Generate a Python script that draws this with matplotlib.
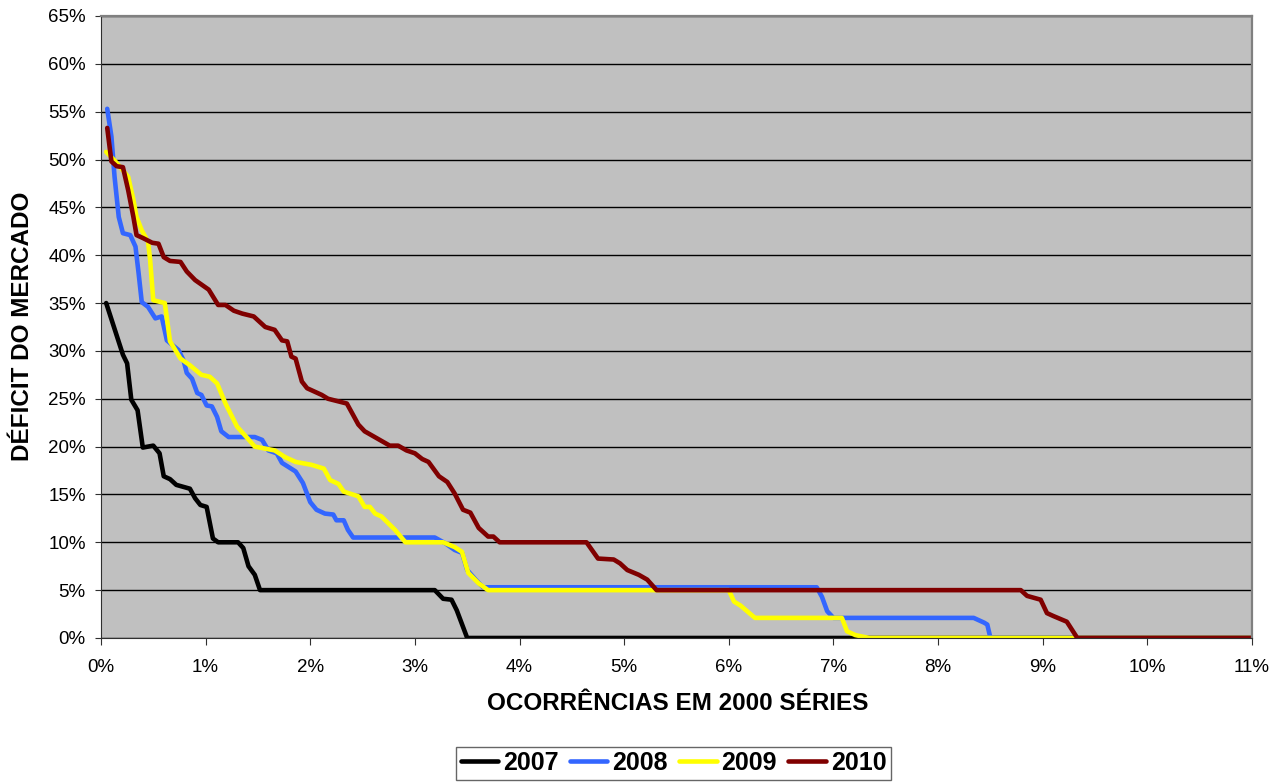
import matplotlib
matplotlib.use("Agg")
import matplotlib.pyplot as plt
from matplotlib.ticker import MultipleLocator, FuncFormatter

plt.rcParams['font.family'] = ['Liberation Sans', 'DejaVu Sans']

# data (x = occurrences in %, y = market deficit in %)
x_2007 = [0.05, 0.21, 0.25, 0.29, 0.35, 0.40, 0.50, 0.56, 0.60, 0.66, 0.72, 0.85, 0.90, 0.95,
          1.01, 1.07, 1.12, 1.31, 1.36, 1.41, 1.47, 1.52, 3.19, 3.27, 3.35, 3.40, 3.50, 11.0]
y_2007 = [35.0, 29.6, 28.7, 24.9, 23.8, 19.9, 20.1, 19.3, 16.9, 16.6, 16.0, 15.6, 14.6, 13.9,
          13.7, 10.4, 10.0, 10.0, 9.4, 7.5, 6.6, 5.0, 5.0, 4.1, 4.0, 2.9, 0.0, 0.0]

x_2008 = [0.06, 0.10, 0.13, 0.17, 0.21, 0.28, 0.33, 0.36, 0.39, 0.45, 0.52, 0.58, 0.63, 0.74,
          0.79, 0.82, 0.87, 0.92, 0.96, 1.01, 1.06, 1.11, 1.15, 1.22, 1.47, 1.54, 1.60, 1.68,
          1.73, 1.86, 1.93, 2.00, 2.06, 2.14, 2.22, 2.25, 2.32, 2.36, 2.41, 3.19, 3.29, 3.38,
          3.45, 3.50, 3.58, 3.65, 6.84, 6.89, 6.94, 7.00, 8.34, 8.44, 8.47, 8.50, 11.0]
y_2008 = [55.3, 52.4, 48.2, 44.0, 42.3, 42.1, 40.9, 38.1, 35.1, 34.6, 33.4, 33.6, 31.1, 30.1,
          29.0, 27.7, 27.1, 25.6, 25.4, 24.3, 24.2, 23.1, 21.6, 21.0, 21.0, 20.7, 19.6, 19.3,
          18.3, 17.4, 16.2, 14.2, 13.4, 13.0, 12.9, 12.3, 12.3, 11.3, 10.5, 10.5, 9.9, 9.2,
          8.9, 7.1, 6.1, 5.3, 5.3, 4.3, 2.8, 2.1, 2.1, 1.6, 1.4, 0.0, 0.0]

x_2009 = [0.05, 0.13, 0.26, 0.31, 0.34, 0.39, 0.45, 0.47, 0.50, 0.61, 0.66, 0.76, 0.85, 0.96,
          1.04, 1.11, 1.19, 1.30, 1.39, 1.47, 1.66, 1.76, 1.86, 2.01, 2.13, 2.19, 2.27, 2.32,
          2.46, 2.52, 2.57, 2.62, 2.68, 2.81, 2.91, 3.27, 3.38, 3.45, 3.51, 3.61, 3.70, 6.00,
          6.05, 6.11, 6.25, 7.08, 7.13, 7.21, 7.34, 11.0]
y_2009 = [50.8, 49.9, 48.2, 45.8, 44.0, 42.6, 41.4, 39.5, 35.3, 35.0, 31.0, 29.2, 28.5, 27.5,
          27.3, 26.6, 24.5, 22.1, 21.0, 20.0, 19.6, 18.9, 18.4, 18.1, 17.7, 16.5, 16.1, 15.3,
          14.8, 13.7, 13.7, 13.0, 12.7, 11.3, 10.0, 10.0, 9.5, 9.0, 6.8, 5.7, 5.0, 5.0,
          3.8, 3.4, 2.1, 2.1, 0.7, 0.3, 0.0, 0.0]

x_2010 = [0.06, 0.10, 0.15, 0.21, 0.26, 0.31, 0.34, 0.40, 0.49, 0.55, 0.60, 0.66, 0.76, 0.82,
          0.90, 1.03, 1.12, 1.19, 1.27, 1.35, 1.46, 1.57, 1.66, 1.73, 1.78, 1.82, 1.86, 1.92,
          1.97, 2.11, 2.17, 2.35, 2.46, 2.52, 2.68, 2.76, 2.84, 2.92, 3.00, 3.07, 3.13, 3.23,
          3.31, 3.38, 3.46, 3.53, 3.61, 3.70, 3.75, 3.81, 4.64, 4.75, 4.90, 4.96, 5.03, 5.14,
          5.22, 5.31, 8.79, 8.85, 8.98, 9.04, 9.10, 9.23, 9.33, 11.0]
y_2010 = [53.3, 49.8, 49.3, 49.2, 46.8, 44.0, 42.1, 41.8, 41.3, 41.2, 39.8, 39.4, 39.3, 38.3,
          37.4, 36.4, 34.8, 34.8, 34.2, 33.9, 33.6, 32.5, 32.2, 31.1, 31.0, 29.4, 29.2, 26.8,
          26.1, 25.4, 25.0, 24.5, 22.3, 21.6, 20.6, 20.1, 20.1, 19.6, 19.3, 18.7, 18.4, 16.9,
          16.3, 15.1, 13.4, 13.1, 11.5, 10.6, 10.6, 10.0, 10.0, 8.3, 8.2, 7.8, 7.1, 6.6,
          6.1, 5.0, 5.0, 4.4, 4.0, 2.6, 2.3, 1.7, 0.0, 0.0]

series = [("2007", x_2007, y_2007, "#000000"),
          ("2008", x_2008, y_2008, "#3366FF"),
          ("2009", x_2009, y_2009, "#FFFF00"),
          ("2010", x_2010, y_2010, "#800000")]

fig = plt.figure(figsize=(12.86, 7.83), dpi=100)
ax = fig.add_axes([0.0785, 0.1852, 0.8951, 0.7944])
ax.set_facecolor("#C0C0C0")

for label, xs, ys, color in series:
    ax.plot(xs, ys, color=color, lw=3.3, label=label, solid_capstyle='round', solid_joinstyle='round')

ax.set_xlim(0, 11)
ax.set_ylim(0, 65)
ax.xaxis.set_major_locator(MultipleLocator(1))
ax.yaxis.set_major_locator(MultipleLocator(5))
ax.xaxis.set_major_formatter(FuncFormatter(lambda v, p: "%d%%" % round(v)))
ax.yaxis.set_major_formatter(FuncFormatter(lambda v, p: "%d%%" % round(v)))
ax.yaxis.grid(True, color="black", lw=1)
ax.set_axisbelow(True)
ax.tick_params(axis='both', labelsize=13.5, color="#303030", direction='out')
ax.tick_params(axis='y', length=4, pad=7)
ax.tick_params(axis='x', length=5, pad=10)

for side in ['left', 'bottom']:
    ax.spines[side].set_color("#303030")
for side in ['right', 'top']:
    ax.spines[side].set_color("#808080")
    ax.spines[side].set_linewidth(1.6)

fig.text(677.5 / 1286, 1 - 704 / 783, "OCORRÊNCIAS EM 2000 SÉRIES", fontsize=17.5,
         fontweight='bold', ha='center', va='center')
fig.text(23 / 1286, 1 - 326.5 / 783, "DÉFICIT DO MERCADO", fontsize=17.5,
         fontweight='bold', ha='center', va='center', rotation=90)

leg = fig.legend(loc='center', bbox_to_anchor=(673.5 / 1286, 1 - 763 / 783), ncol=4, frameon=True,
                 fancybox=False, edgecolor="#404040", prop={'size': 18, 'weight': 'bold'},
                 handlelength=1.5, handletextpad=0.2, columnspacing=0.45, borderpad=0.18,
                 borderaxespad=0)
leg.get_frame().set_linewidth(1)

fig.savefig("out.png", dpi=100)
